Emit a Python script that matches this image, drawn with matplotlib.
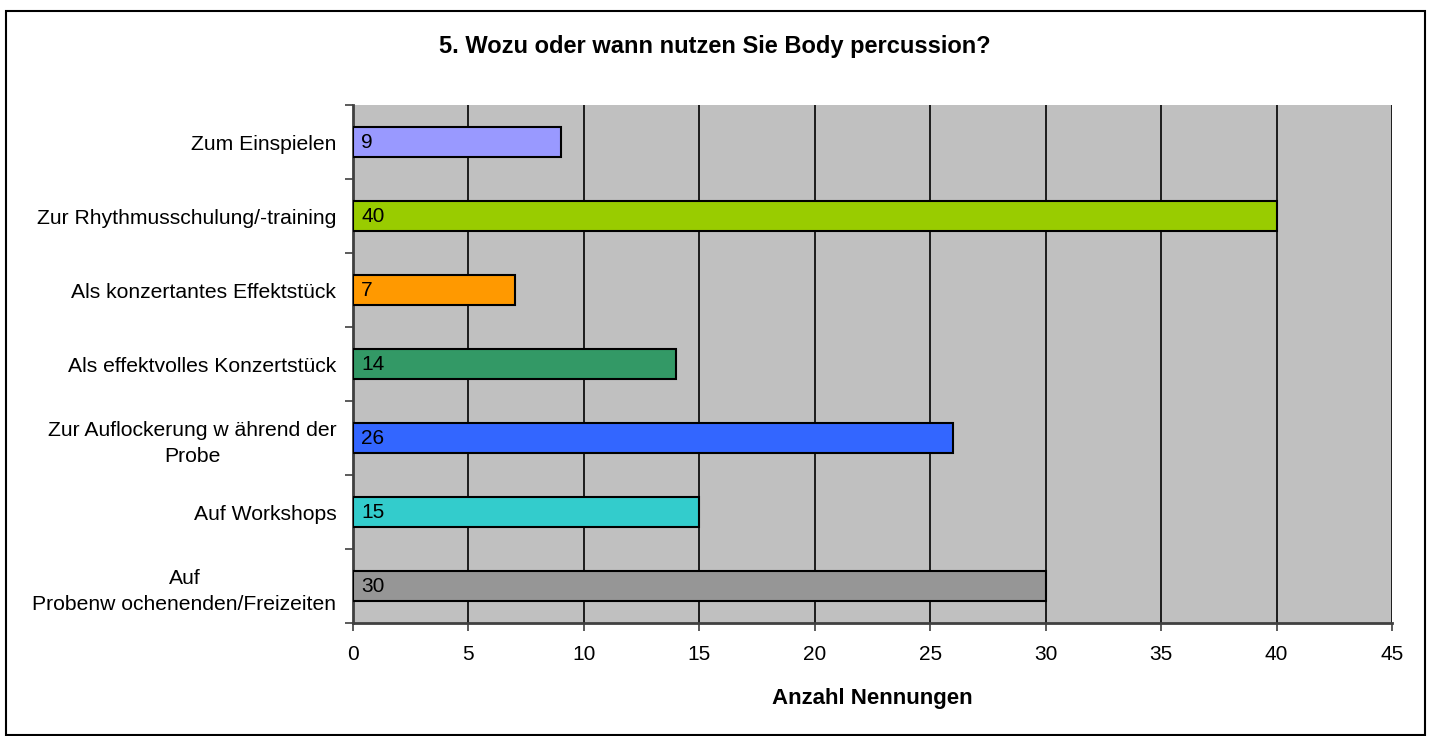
import matplotlib
matplotlib.use("Agg")
import matplotlib.pyplot as plt
from matplotlib.patches import Rectangle
import numpy as np

plt.rcParams['font.family'] = ['Liberation Sans', 'DejaVu Sans']

categories = [
    "Zum Einspielen",
    "Zur Rhythmusschulung/-training",
    "Als konzertantes Effektstück",
    "Als effektvolles Konzertstück",
    "Zur Auflockerung w ährend der\nProbe",
    "Auf Workshops",
    "Auf\nProbenw ochenenden/Freizeiten",
]
values = [9, 40, 7, 14, 26, 15, 30]
colors = ["#9999FF", "#99CC00", "#FF9900", "#339966", "#3366FF", "#33CCCC", "#969696"]
title = "5. Wozu oder wann nutzen Sie Body percussion?"
xlabel = "Anzahl Nennungen"
xticks = [0, 5, 10, 15, 20, 25, 30, 35, 40, 45]

W, H = 1430, 736
fig = plt.figure(figsize=(W / 100, H / 100), dpi=100)
left, right, top, bottom = 353, 1392, 105, 623
ax = fig.add_axes([left / W, 1 - bottom / H, (right - left) / W, (bottom - top) / H])
ax.set_facecolor("#C0C0C0")

y = np.arange(len(categories))
ax.barh(y, values, height=0.4, color=colors, edgecolor="black", linewidth=1.5, zorder=3)
for yi, v in zip(y, values):
    ax.text(0.35, yi, str(v), va="center", ha="left", fontsize=15, zorder=4)

ax.set_xlim(0, 45)
ax.set_ylim(len(categories) - 0.5, -0.5)
ax.set_xticks(xticks)
ax.set_xticklabels([str(t) for t in xticks], fontsize=15)
ax.set_yticks(y)
ax.set_yticklabels(categories, fontsize=15.2, multialignment="center", linespacing=1.45)
ax.set_yticks(np.arange(len(categories) + 1) - 0.5, minor=True)
ax.tick_params(axis="y", which="major", length=0, pad=12)
ax.tick_params(axis="y", which="minor", length=6, width=1.2, color="#404040")
ax.tick_params(axis="x", which="major", length=6, width=1.2, color="#404040", pad=10)
ax.xaxis.grid(True, color="black", linewidth=1.2, zorder=1)
ax.set_axisbelow(True)
for s in ["top", "right"]:
    ax.spines[s].set_visible(False)
for s in ["left", "bottom"]:
    ax.spines[s].set_color("#404040")
    ax.spines[s].set_linewidth(2)

ax.set_xlabel(xlabel, fontsize=16, fontweight="bold", labelpad=17)
fig.text(0.5, 1 - 46 / H, title, ha="center", va="center", fontsize=17, fontweight="bold")

fig.patches.append(Rectangle((6 / W, 1 / H), (1425 - 6) / W, (H - 11 - 1) / H,
                             transform=fig.transFigure, fill=False, edgecolor="black", linewidth=1.5))

fig.savefig("out.png", dpi=100)
